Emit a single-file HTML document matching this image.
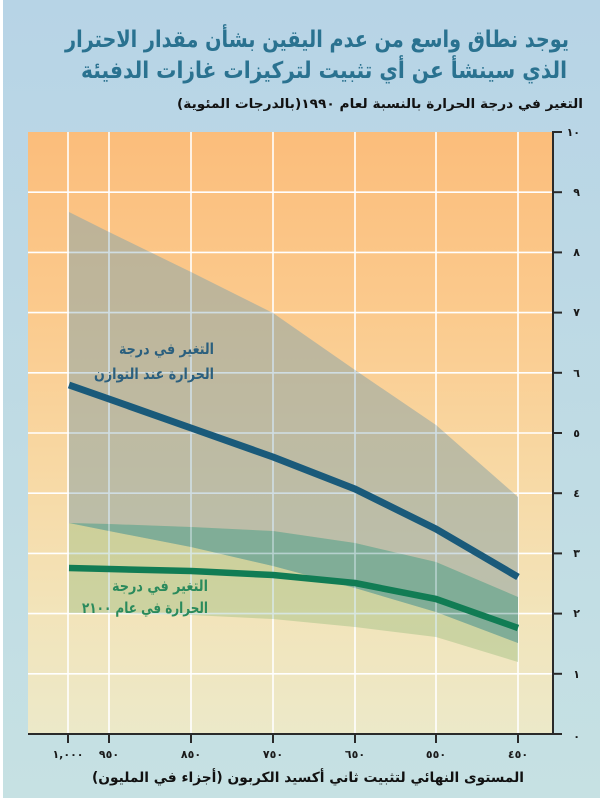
<!DOCTYPE html>
<html>
<head>
<meta charset="utf-8">
<style>
  html,body{margin:0;padding:0;background:#fff;}
  svg{display:block;}
  .ar{font-family:"DejaVu Sans","Liberation Sans",sans-serif;}
  .num{font-family:"DejaVu Sans","Liberation Sans",sans-serif;font-weight:bold;font-size:11px;fill:#1a1a1a;}
</style>
</head>
<body>
<svg width="600" height="806" viewBox="0 0 600 806" xmlns="http://www.w3.org/2000/svg">
  <defs>
    <linearGradient id="panel" x1="0" y1="0" x2="0" y2="1">
      <stop offset="0" stop-color="#b7d4e6"/>
      <stop offset="1" stop-color="#c6e1e3"/>
    </linearGradient>
    <linearGradient id="plotbg" gradientUnits="userSpaceOnUse" x1="0" y1="132" x2="0" y2="734">
      <stop offset="0" stop-color="#fbbd7b"/>
      <stop offset="0.3" stop-color="#fbca8d"/>
      <stop offset="0.55" stop-color="#f8d8a3"/>
      <stop offset="0.8" stop-color="#f2e4ba"/>
      <stop offset="1" stop-color="#ece9c9"/>
    </linearGradient>
    <clipPath id="bandclip">
      <polygon points="69,212 109,232 191,272 273,313 355,370 436,425 518,497 518,643 436,612 355,588 273,566 191,547 109,531 69,523"/>
      <polygon points="69,523 109,524 191,527 273,531 355,543 436,562 518,597 518,662 436,637 355,627 273,619 191,615 109,613 69,613"/>
    </clipPath>
  </defs>

  <!-- panel -->
  <rect x="0" y="0" width="600" height="806" fill="#ffffff"/>
  <rect x="3" y="0" width="597" height="798" fill="url(#panel)"/>

  <!-- plot background -->
  <rect x="28" y="132" width="525" height="602" fill="url(#plotbg)"/>

  <!-- gridlines -->
  <g stroke="#ffffff" stroke-width="1.6">
    <line x1="28" y1="673.8" x2="553" y2="673.8"/>
    <line x1="28" y1="613.6" x2="553" y2="613.6"/>
    <line x1="28" y1="553.4" x2="553" y2="553.4"/>
    <line x1="28" y1="493.2" x2="553" y2="493.2"/>
    <line x1="28" y1="433" x2="553" y2="433"/>
    <line x1="28" y1="372.8" x2="553" y2="372.8"/>
    <line x1="28" y1="312.6" x2="553" y2="312.6"/>
    <line x1="28" y1="252.4" x2="553" y2="252.4"/>
    <line x1="28" y1="192.2" x2="553" y2="192.2"/>
    <line x1="68" y1="132" x2="68" y2="734"/>
    <line x1="109" y1="132" x2="109" y2="734"/>
    <line x1="191" y1="132" x2="191" y2="734"/>
    <line x1="273" y1="132" x2="273" y2="734"/>
    <line x1="355" y1="132" x2="355" y2="734"/>
    <line x1="436" y1="132" x2="436" y2="734"/>
    <line x1="518" y1="132" x2="518" y2="734"/>
  </g>

  <!-- gray band (equilibrium range) -->
  <polygon points="69,212 109,232 191,272 273,313 355,370 436,425 518,497 518,643 436,612 355,588 273,566 191,547 109,531 69,523"
           fill="rgb(150,168,165)" fill-opacity="0.6"/>
  <!-- green band (2100 range) -->
  <polygon points="69,523 109,524 191,527 273,531 355,543 436,562 518,597 518,662 436,637 355,627 273,619 191,615 109,613 69,613"
           fill="rgb(166,194,135)" fill-opacity="0.5"/>
  <!-- overlap -->
  <polygon points="69,523 109,524 191,527 273,531 355,543 436,562 518,597 518,643 436,612 355,588 273,566 191,547 109,531 69,523"
           fill="#80ad97"/>

  <!-- gridlines showing through bands -->
  <g clip-path="url(#bandclip)" stroke="#dbeaf4" stroke-width="1.6" opacity="0.6">
    <line x1="28" y1="673.8" x2="553" y2="673.8"/>
    <line x1="28" y1="613.6" x2="553" y2="613.6"/>
    <line x1="28" y1="553.4" x2="553" y2="553.4"/>
    <line x1="28" y1="493.2" x2="553" y2="493.2"/>
    <line x1="28" y1="433" x2="553" y2="433"/>
    <line x1="28" y1="372.8" x2="553" y2="372.8"/>
    <line x1="28" y1="312.6" x2="553" y2="312.6"/>
    <line x1="28" y1="252.4" x2="553" y2="252.4"/>
    <line x1="109" y1="132" x2="109" y2="734"/>
    <line x1="191" y1="132" x2="191" y2="734"/>
    <line x1="273" y1="132" x2="273" y2="734"/>
    <line x1="355" y1="132" x2="355" y2="734"/>
    <line x1="436" y1="132" x2="436" y2="734"/>
  </g>

  <!-- central lines -->
  <polyline points="69,385 109,399 191,428 273,457 355,489 436,529 518,577"
            fill="none" stroke="#1a5a7a" stroke-width="7" stroke-linejoin="round"/>
  <polyline points="69,568 109,569 191,571 273,575 355,583 436,599 518,628"
            fill="none" stroke="#117c54" stroke-width="6.5" stroke-linejoin="round"/>

  <!-- series labels -->
  <g class="ar" font-size="15" font-weight="bold" direction="rtl" text-anchor="middle">
    <text x="166.5" y="354" fill="#2b5f7e" textLength="95" lengthAdjust="spacingAndGlyphs">التغير في درجة</text>
    <text x="154" y="379" fill="#2b5f7e" textLength="120" lengthAdjust="spacingAndGlyphs">الحرارة عند التوازن</text>
    <text x="160" y="591" fill="#2a8a5c" textLength="96" lengthAdjust="spacingAndGlyphs">التغير في درجة</text>
    <text x="145" y="613" fill="#2a8a5c" textLength="126" lengthAdjust="spacingAndGlyphs">الحرارة في عام ٢١٠٠</text>
  </g>

  <!-- axes -->
  <g stroke="#2a2a2a" stroke-width="2">
    <line x1="553" y1="131" x2="553" y2="735"/>
    <line x1="28" y1="734" x2="562" y2="734"/>
    <!-- y ticks -->
    <line x1="553" y1="132" x2="562" y2="132"/>
    <line x1="553" y1="192.2" x2="562" y2="192.2"/>
    <line x1="553" y1="252.4" x2="562" y2="252.4"/>
    <line x1="553" y1="312.6" x2="562" y2="312.6"/>
    <line x1="553" y1="372.8" x2="562" y2="372.8"/>
    <line x1="553" y1="433" x2="562" y2="433"/>
    <line x1="553" y1="493.2" x2="562" y2="493.2"/>
    <line x1="553" y1="553.4" x2="562" y2="553.4"/>
    <line x1="553" y1="613.6" x2="562" y2="613.6"/>
    <line x1="553" y1="673.8" x2="562" y2="673.8"/>
    <!-- x ticks -->
    <line x1="68" y1="734" x2="68" y2="743"/>
    <line x1="109" y1="734" x2="109" y2="743"/>
    <line x1="191" y1="734" x2="191" y2="743"/>
    <line x1="273" y1="734" x2="273" y2="743"/>
    <line x1="355" y1="734" x2="355" y2="743"/>
    <line x1="436" y1="734" x2="436" y2="743"/>
    <line x1="518" y1="734" x2="518" y2="743"/>
  </g>

  <!-- y tick labels -->
  <g class="num" text-anchor="end">
    <text x="580" y="136">١٠</text>
    <text x="580" y="196">٩</text>
    <text x="580" y="256">٨</text>
    <text x="580" y="316">٧</text>
    <text x="580" y="377">٦</text>
    <text x="580" y="437">٥</text>
    <text x="580" y="497">٤</text>
    <text x="580" y="557">٣</text>
    <text x="580" y="617">٢</text>
    <text x="580" y="678">١</text>
    <text x="580" y="740">٠</text>
  </g>

  <!-- x tick labels -->
  <g class="num" text-anchor="middle">
    <text x="68" y="758">١,٠٠٠</text>
    <text x="109" y="758">٩٥٠</text>
    <text x="191" y="758">٨٥٠</text>
    <text x="273" y="758">٧٥٠</text>
    <text x="355" y="758">٦٥٠</text>
    <text x="436" y="758">٥٥٠</text>
    <text x="518" y="758">٤٥٠</text>
  </g>

  <!-- title -->
  <g class="ar" font-size="23" font-weight="bold" fill="#2a7290" direction="rtl" text-anchor="middle">
    <text x="317" y="47" textLength="504" lengthAdjust="spacingAndGlyphs">يوجد نطاق واسع من عدم اليقين بشأن مقدار الاحترار</text>
    <text x="324" y="78" textLength="486" lengthAdjust="spacingAndGlyphs">الذي سينشأ عن أي تثبيت لتركيزات غازات الدفيئة</text>
  </g>

  <!-- axis titles -->
  <g class="ar" font-weight="bold" fill="#111111" direction="rtl" text-anchor="middle">
    <text x="380" y="108" font-size="13" textLength="406" lengthAdjust="spacingAndGlyphs">التغير في درجة الحرارة بالنسبة لعام ١٩٩٠(بالدرجات المئوية)</text>
    <text x="308" y="782" font-size="14" textLength="432" lengthAdjust="spacingAndGlyphs">المستوى النهائي لتثبيت ثاني أكسيد الكربون (أجزاء في المليون)</text>
  </g>
</svg>
</body>
</html>
